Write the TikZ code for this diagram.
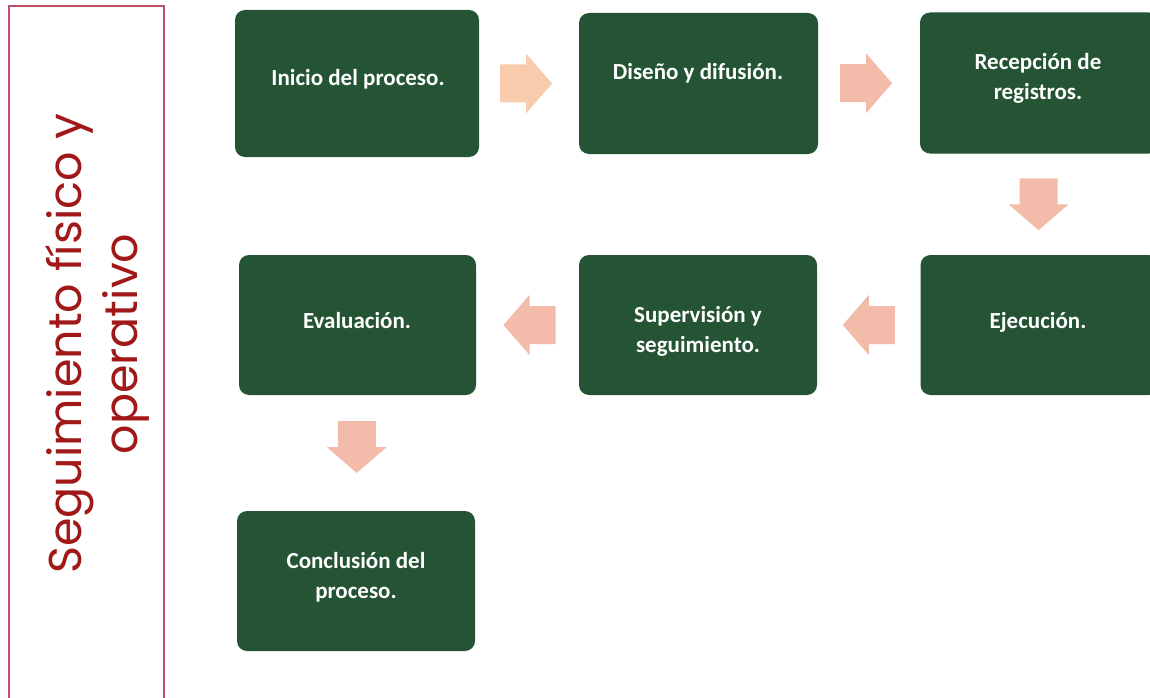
\documentclass[tikz,border=0pt]{standalone}
\usepackage{fontspec}
\setmainfont{Carlito}
\newfontfamily\titlefont{Poppins}
\usetikzlibrary{calc}
\definecolor{boxgreen}{HTML}{255434}
\definecolor{peach}{HTML}{F8CBAD}
\definecolor{salmon}{HTML}{F3BBAA}
\definecolor{framered}{HTML}{C0506A}
\definecolor{titlered}{HTML}{A01818}
\def\blockarrow[#1](#2)(#3){\fill[#1, shift={(#2)}, rotate=#3] (-26,-19) -- (0,-19) -- (0,-30) -- (26,0) -- (0,30) -- (0,19) -- (-26,19) -- cycle;}

\begin{document}
\begin{tikzpicture}[x=1pt, y=-1pt,
		box/.style={fill=boxgreen, rounded corners=10pt, minimum width=238pt, minimum height=140pt, inner sep=0pt},
		txt/.style={text=white, font=\bfseries\fontsize{23}{30}\selectfont, align=center, anchor=base, inner sep=0pt}]
			%%%%% START %%%%%
			
			\clip (0,0) rectangle (1150,698);
			
			\draw[line width=1.5pt, color=framered] (9,6) rectangle (164,720);
			\node[rotate=90, anchor=base, align=center, inner sep=0pt, text=titlered, font=\titlefont\fontsize{46}{56}\selectfont] (titulo) at (137,344) {Seguimiento físico y\\operativo};
			
			\node[box, minimum width=244pt, minimum height=147pt] (inicio) at (357,83.5) {};
			\node[box, minimum width=239pt, minimum height=141pt] (diseno) at (698.5,83.5) {};
			\node[box, minimum width=239pt, minimum height=141pt] (recepcion) at (1039.5,83) {};
			\node[box] (ejecucion) at (1039.5,325) {};
			\node[box] (supervision) at (698,325) {};
			\node[box, minimum width=237pt] (evaluacion) at (357.5,325) {};
			\node[box] (conclusion) at (356,581) {};
			
			\node[txt] (inicio-t) at (358,86) {Inicio del proceso.};
			\node[txt] (diseno-t) at (698,80) {Diseño y difusión.};
			\node[txt] (recepcion-t) at (1038,100) {Recepción de\\registros.};
			\node[txt] (ejecucion-t) at (1038,328) {Ejecución.};
			\node[txt] (supervision-t) at (698,352) {Supervisión y\\seguimiento.};
			\node[txt] (evaluacion-t) at (357,328) {Evaluación.};
			\node[txt] (conclusion-t) at (356,598) {Conclusión del\\proceso.};
			
			\coordinate (a1) at ($(inicio.east)!0.5!(diseno.west)+(-3,0)$);
			\coordinate (a2) at ($(diseno.east)!0.5!(recepcion.west)+(-3,0)$);
			\coordinate (a3) at ($(recepcion.south)!0.5!(ejecucion.north)+(-1,0)$);
			\coordinate (a4) at ($(ejecucion.west)!0.5!(supervision.east)$);
			\coordinate (a5) at ($(supervision.west)!0.5!(evaluacion.east)+(2,0)$);
			\coordinate (a6) at ($(evaluacion.south)!0.5!(conclusion.north)+(0,-6)$);
			
			\blockarrow[peach](a1)(0)
			\blockarrow[salmon](a2)(0)
			\blockarrow[salmon](a3)(-90)
			\blockarrow[salmon](a4)(180)
			\blockarrow[salmon](a5)(180)
			\blockarrow[salmon](a6)(-90)
			
			%%%%% END %%%%%
		\end{tikzpicture}
\end{document}
